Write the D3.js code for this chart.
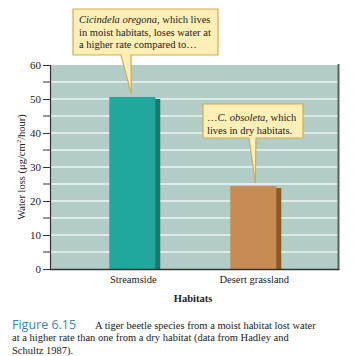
<!DOCTYPE html>
<html><head><meta charset="utf-8">
<script src="https://cdn.jsdelivr.net/npm/d3@7"></script>
<style>body{margin:0;background:#fff}svg{display:block}</style>
</head><body>
<svg id="c" width="360" height="356"></svg>
<script>
const categories = ["Streamside", "Desert grassland"];
const values = [50.6, 24.4];
const yTicks = [0, 10, 20, 30, 40, 50, 60];
const minorTicks = [5, 15, 25, 35, 45, 55];
const gridLines = [5, 10, 15, 20, 25, 30, 35, 40, 45, 50, 55];
const barColors = ["#20a89d", "#c78c53"];
const shadowColors = ["#177a70", "#8d5a22"];
const callout1 = [["i","Cicindela oregona"],["n",", which lives"]];
const callout1Lines = ["in moist habitats, loses water at", "a higher rate compared to…"];
const callout2 = [["n","…"],["i","C. obsoleta"],["n",", which"]];
const callout2Lines = ["lives in dry habitats."];
const captionLines = ["at a higher rate than one from a dry habitat (data from Hadley and", "Schultz 1987)."];

(function () {
const svg = d3.select("#c");
const serif = "'Liberation Serif', 'DejaVu Serif', serif";
const pL = 50, pR = 338, pT = 65, pB = 269;
const x = d3.scaleBand().domain(categories).range([pL, pR]).paddingInner(0.62).paddingOuter(0.5).align(0.49);
const y = d3.scaleLinear().domain([0, 60]).range([pB, pT]);

svg.append("rect").attr("x", pL).attr("y", pT).attr("width", pR - pL).attr("height", pB - pT).attr("fill", "#b2cdc8");
svg.selectAll(".g").data(gridLines).enter().append("line")
  .attr("x1", pL).attr("x2", pR).attr("y1", d => y(d)).attr("y2", d => y(d))
  .attr("stroke", "#eef5f3").attr("stroke-width", 1.5);
svg.append("line").attr("x1", pR + 0.5).attr("x2", pR + 0.5).attr("y1", pT - 1).attr("y2", pB)
  .attr("stroke", "#5a5f60").attr("stroke-width", 2);

categories.forEach((c, i) => {
  const bx = x(c), bw = x.bandwidth(), by = y(values[i]);
  svg.append("rect").attr("x", bx + bw - 1).attr("y", by + 2).attr("width", 6).attr("height", pB - by - 2).attr("fill", shadowColors[i]);
  svg.append("rect").attr("x", bx).attr("y", by).attr("width", bw).attr("height", pB - by).attr("fill", barColors[i]);
});

const ax = svg.append("g").attr("transform", `translate(${pL},0)`)
  .call(d3.axisLeft(y).tickValues(yTicks).tickSize(7).tickPadding(2).tickFormat(d3.format("d")));
ax.select(".domain").attr("stroke", "#333").attr("stroke-width", 1.2);
ax.selectAll(".tick line").attr("stroke", "#333");
ax.selectAll("text").attr("font-family", serif).attr("font-size", 11).attr("fill", "#222");
svg.selectAll(".mt").data(minorTicks).enter().append("line")
  .attr("x1", pL - 7).attr("x2", pL).attr("y1", d => y(d)).attr("y2", d => y(d)).attr("stroke", "#333");
svg.append("line").attr("x1", pL).attr("x2", pR + 1.5).attr("y1", pB + 0.5).attr("y2", pB + 0.5).attr("stroke", "#333").attr("stroke-width", 1.5);
svg.selectAll(".xl").data(categories).enter().append("text")
  .attr("x", d => x(d) + x.bandwidth() / 2 + 1).attr("y", 283).attr("text-anchor", "middle")
  .attr("font-family", serif).attr("font-size", 10.5).attr("fill", "#222").text(d => d);
svg.append("text").attr("x", 193).attr("y", 302).attr("text-anchor", "middle")
  .attr("font-family", serif).attr("font-size", 10.5).attr("font-weight", "bold").attr("fill", "#222").text("Habitats");
const yl = svg.append("text").attr("transform", `translate(25,${(pT + pB) / 2}) rotate(-90)`)
  .attr("text-anchor", "middle").attr("font-family", serif).attr("font-size", 10.5).attr("fill", "#222");
yl.append("tspan").text("Water loss (μg/cm");
yl.append("tspan").attr("font-size", 7).attr("dy", -4).text("2");
yl.append("tspan").attr("dy", 4).text("/hour)");

function callout(bx, by, bw, bh, baseX0, baseX1, tipX, tipY, firstRuns, lines, tx, ty0) {
  const g = svg.append("g");
  const path = `M${bx},${by} H${bx + bw} V${by + bh} H${baseX1} L${tipX},${tipY} L${baseX0},${by + bh} H${bx} Z`;
  g.append("path").attr("d", path).attr("fill", "#fdefb5").attr("stroke", "#d6a94c").attr("stroke-width", 1.2);
  const t = g.append("text").attr("x", tx).attr("y", ty0).attr("font-family", serif).attr("font-size", 10.5).attr("fill", "#222");
  firstRuns.forEach(r => t.append("tspan").attr("font-style", r[0] === "i" ? "italic" : "normal").text(r[1]));
  lines.forEach((l, k) => g.append("text").attr("x", tx).attr("y", ty0 + 12.5 * (k + 1))
    .attr("font-family", serif).attr("font-size", 10.5).attr("fill", "#222").text(l));
}
const c1x = x(categories[0]) + x.bandwidth() / 2;
const c2x = x(categories[1]) + x.bandwidth() / 2;
callout(73, 9, 145, 46, 121, 131, c1x - 1, y(values[0]) - 3, callout1, callout1Lines, 79, 23);
callout(203, 104, 100, 34, 249, 256, c2x + 2, y(values[1]) - 3, callout2, callout2Lines, 207, 121);

svg.append("text").attr("x", 12).attr("y", 329).attr("font-family", "'Open Sans', 'DejaVu Sans', sans-serif")
  .attr("font-size", 12.5).attr("fill", "#3b7fc2").text("Figure 6.15");
svg.append("text").attr("x", 95).attr("y", 328.5).attr("font-family", serif).attr("font-size", 10.5).attr("fill", "#222")
  .text("A tiger beetle species from a moist habitat lost water");
captionLines.forEach((l, k) => svg.append("text").attr("x", 12).attr("y", 341 + 12.5 * k)
  .attr("font-family", serif).attr("font-size", 10.5).attr("fill", "#222").text(l));
})();
</script>
</body></html>
